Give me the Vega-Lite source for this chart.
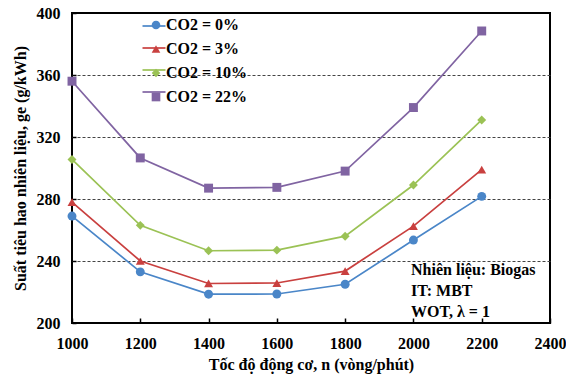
{
  "$schema": "https://vega.github.io/schema/vega-lite/v6.json",
  "width": 478,
  "height": 310,
  "autosize": {"type": "none"},
  "padding": {"left": 72, "top": 13, "right": 16, "bottom": 57},
  "background": "white",
  "data": {"values": [
    {"co2": "CO2 = 0%", "n": 1000, "ge": 269},
    {"co2": "CO2 = 0%", "n": 1200, "ge": 233},
    {"co2": "CO2 = 0%", "n": 1400, "ge": 218.6},
    {"co2": "CO2 = 0%", "n": 1600, "ge": 218.7},
    {"co2": "CO2 = 0%", "n": 1800, "ge": 225},
    {"co2": "CO2 = 0%", "n": 2000, "ge": 253.5},
    {"co2": "CO2 = 0%", "n": 2200, "ge": 281.7},
    {"co2": "CO2 = 3%", "n": 1000, "ge": 278},
    {"co2": "CO2 = 3%", "n": 1200, "ge": 240},
    {"co2": "CO2 = 3%", "n": 1400, "ge": 225.5},
    {"co2": "CO2 = 3%", "n": 1600, "ge": 225.8},
    {"co2": "CO2 = 3%", "n": 1800, "ge": 233.5},
    {"co2": "CO2 = 3%", "n": 2000, "ge": 262.5},
    {"co2": "CO2 = 3%", "n": 2200, "ge": 299},
    {"co2": "CO2 = 10%", "n": 1000, "ge": 305.5},
    {"co2": "CO2 = 10%", "n": 1200, "ge": 263},
    {"co2": "CO2 = 10%", "n": 1400, "ge": 246.6},
    {"co2": "CO2 = 10%", "n": 1600, "ge": 247},
    {"co2": "CO2 = 10%", "n": 1800, "ge": 256},
    {"co2": "CO2 = 10%", "n": 2000, "ge": 289},
    {"co2": "CO2 = 10%", "n": 2200, "ge": 331},
    {"co2": "CO2 = 22%", "n": 1000, "ge": 356},
    {"co2": "CO2 = 22%", "n": 1200, "ge": 306.5},
    {"co2": "CO2 = 22%", "n": 1400, "ge": 287},
    {"co2": "CO2 = 22%", "n": 1600, "ge": 287.5},
    {"co2": "CO2 = 22%", "n": 1800, "ge": 298},
    {"co2": "CO2 = 22%", "n": 2000, "ge": 339},
    {"co2": "CO2 = 22%", "n": 2200, "ge": 388.4}
  ]},
  "config": {
    "font": "Liberation Serif",
    "view": {"stroke": "black", "strokeWidth": 2},
    "axis": {
      "labelFont": "Liberation Serif", "labelFontSize": 16, "labelFontWeight": "bold", "labelColor": "black",
      "titleFont": "Liberation Serif", "titleFontSize": 16, "titleFontWeight": "bold", "titleColor": "black",
      "domain": false, "tickColor": "black", "tickWidth": 1.5, "labelFlush": false, "format": "d"
    },
    "legend": {
      "labelFont": "Liberation Serif", "labelFontSize": 16, "labelFontWeight": "bold", "labelColor": "black",
      "padding": 0
    }
  },
  "layer": [
    {
      "mark": {"type": "line", "strokeWidth": 1.7},
      "encoding": {
        "x": {"field": "n", "type": "quantitative",
          "scale": {"domain": [1000, 2400], "nice": false},
          "axis": {"values": [1000, 1200, 1400, 1600, 1800, 2000, 2200, 2400], "grid": false,
            "tickSize": -5, "labelPadding": 17, "title": "Tốc độ động cơ, n (vòng/phút)", "titlePadding": 5}},
        "y": {"field": "ge", "type": "quantitative",
          "scale": {"domain": [200, 400], "nice": false},
          "axis": {"values": [200, 240, 280, 320, 360, 400], "grid": true, "gridDash": [3, 2], "gridColor": "#444",
            "gridOpacity": {"condition": {"test": "datum.value == 200 || datum.value == 400", "value": 0}, "value": 1},
            "tickSize": -4, "labelPadding": 16, "title": "Suất tiêu hao nhiên liệu, ge (g/kWh)", "titlePadding": 8}},
        "stroke": {"field": "co2", "type": "nominal",
          "sort": ["CO2 = 0%", "CO2 = 3%", "CO2 = 10%", "CO2 = 22%"],
          "scale": {"range": ["#4a86c8", "#c9403f", "#9bc255", "#8064a2"]},
          "legend": {"title": null, "orient": "none", "legendX": 69.5, "legendY": 0.5, "rowPadding": 1,
            "symbolType": "stroke", "symbolSize": 529, "symbolStrokeWidth": 1.7, "labelOpacity": 0, "labelExpr": "''", "labelOffset": 3}}
      }
    },
    {
      "mark": {"type": "point", "filled": true, "opacity": 1, "strokeWidth": 0, "size": 80},
      "encoding": {
        "x": {"field": "n", "type": "quantitative"},
        "y": {"field": "ge", "type": "quantitative"},
        "fill": {"field": "co2", "type": "nominal",
          "scale": {"domain": ["CO2 = 0%", "CO2 = 3%", "CO2 = 10%", "CO2 = 22%"], "range": ["#4a86c8", "#c9403f", "#9bc255", "#8064a2"]},
          "legend": {"title": null, "orient": "none", "legendX": 76, "legendY": 4, "rowPadding": 8, "symbolSize": 75, "symbolStrokeWidth": 0, "labelOffset": 2}},
        "shape": {"field": "co2", "type": "nominal",
          "scale": {"domain": ["CO2 = 0%", "CO2 = 3%", "CO2 = 10%", "CO2 = 22%"], "range": ["circle", "triangle-up", "diamond", "square"]},
          "legend": {"title": null, "orient": "none", "legendX": 76, "legendY": 4, "rowPadding": 8, "symbolSize": 75, "symbolStrokeWidth": 0, "labelOffset": 2}}
      }
    },
    {
      "data": {"values": [{"note": "Nhiên liệu: Biogas\nIT: MBT\nWOT, λ = 1"}]},
      "mark": {"type": "text", "align": "left", "baseline": "middle", "lineBreak": "\n", "lineHeight": 21,
        "font": "Liberation Serif", "fontSize": 16, "fontWeight": "bold", "color": "black"},
      "encoding": {
        "x": {"datum": 1993, "type": "quantitative"},
        "y": {"datum": 234.2, "type": "quantitative"},
        "text": {"field": "note", "type": "nominal"}
      }
    }
  ]
}
